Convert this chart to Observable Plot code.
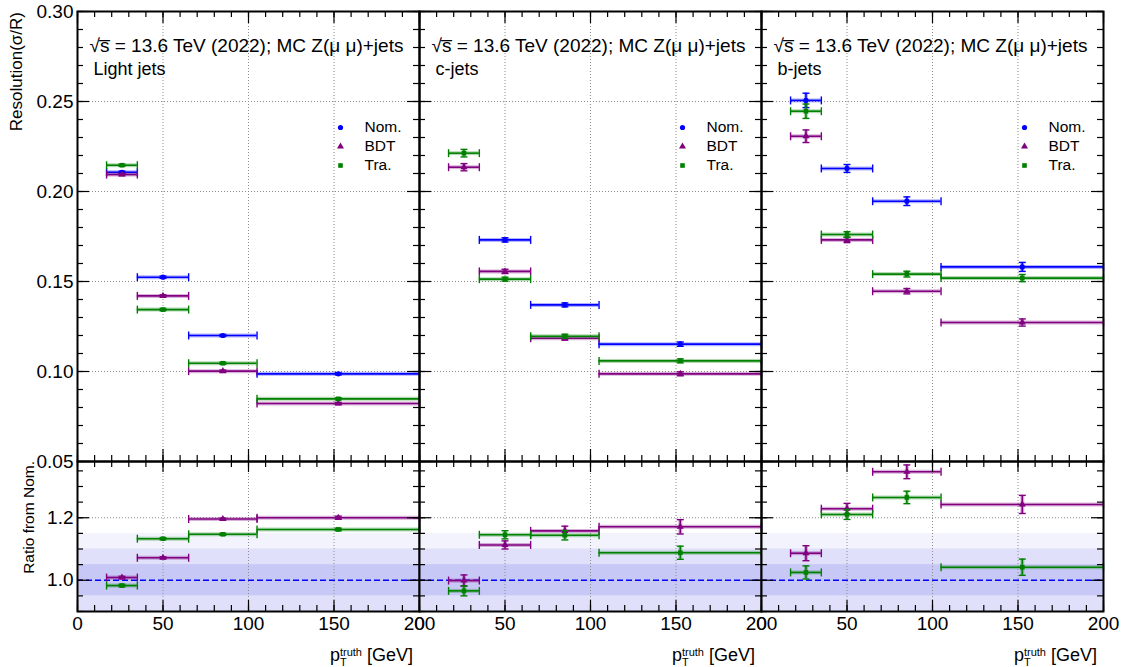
<!DOCTYPE html>
<html><head><meta charset="utf-8">
<script src="https://cdn.jsdelivr.net/npm/d3@7"></script>
<script src="https://cdn.jsdelivr.net/npm/@observablehq/plot@0.6"></script>
<style>
body{margin:0;background:#fff;font-family:"Liberation Sans",Arial,sans-serif;}
#chart{position:relative;width:1123px;height:667px;background:#fff;overflow:hidden;}
#chart svg{position:absolute;}
</style></head><body><div id="chart"></div>
<script>
// ---------- data ----------
const panels = ["Light jets", "c-jets", "b-jets"];
const headline = "\u221As\u0305 = 13.6 TeV (2022); MC Z(\u03BC \u03BC)+jets";
const seriesNames = ["Nom.", "BDT", "Tra."];
const seriesColors = ["#0000ff", "#800080", "#008000"];
const seriesSymbols = ["circle", "triangle", "square"];

const binLo = [17, 35, 65, 105];
const binHi = [35, 65, 105, 200];
const binCenter = [26, 50, 85, 152.5];

// resolution sigma/R
const nomLight = [0.2107, 0.1524, 0.1200, 0.0987];
const bdtLight = [0.2094, 0.1420, 0.1002, 0.0822];
const traLight = [0.2146, 0.1344, 0.1046, 0.0848];
const nomC = [null, 0.1731, 0.1370, 0.1152];
const bdtC = [0.2135, 0.1556, 0.1185, 0.0987];
const traC = [0.2213, 0.1513, 0.1196, 0.1059];
const nomB = [0.2506, 0.2128, 0.1946, 0.1581];
const bdtB = [0.2307, 0.1731, 0.1446, 0.1272];
const traB = [0.2446, 0.1761, 0.1541, 0.1519];

const nomLightErr = [0.0006, 0.0006, 0.0006, 0.0006];
const bdtLightErr = [0.0006, 0.0006, 0.0006, 0.0006];
const traLightErr = [0.0006, 0.0006, 0.0006, 0.0006];
const nomCErr = [0, 0.0012, 0.0011, 0.0012];
const bdtCErr = [0.0020, 0.0012, 0.0011, 0.0011];
const traCErr = [0.0021, 0.0011, 0.0011, 0.0011];
const nomBErr = [0.0040, 0.0022, 0.0024, 0.0025];
const bdtBErr = [0.0035, 0.0015, 0.0015, 0.0020];
const traBErr = [0.0040, 0.0016, 0.0016, 0.0020];

// ratio to Nom.
const bdtRatioLight = [1.0087, 1.072, 1.196, 1.200];
const traRatioLight = [0.983, 1.133, 1.147, 1.1625];
const bdtRatioC = [0.999, 1.113, 1.158, 1.171];
const traRatioC = [0.966, 1.1455, 1.144, 1.088];
const bdtRatioB = [1.0865, 1.229, 1.347, 1.2426];
const traRatioB = [1.025, 1.2106, 1.265, 1.0417];

const bdtRatioLightErr = [0.004, 0.003, 0.003, 0.005];
const traRatioLightErr = [0.004, 0.003, 0.003, 0.004];
const bdtRatioCErr = [0.018, 0.013, 0.015, 0.023];
const traRatioCErr = [0.016, 0.013, 0.015, 0.021];
const bdtRatioBErr = [0.024, 0.017, 0.022, 0.029];
const traRatioBErr = [0.021, 0.016, 0.020, 0.026];

// axes
const xDomain = [0, 200];
const xMajor = [0, 50, 100, 150, 200];
const xMinor = [0,10,20,30,40,50,60,70,80,90,100,110,120,130,140,150,160,170,180,190,200];
const xGrid = [50, 100, 150];
const yTopDomain = [0.05, 0.30];
const yTopMajor = [0.05, 0.10, 0.15, 0.20, 0.25, 0.30];
const yTopMinor = [0.05,0.06,0.07,0.08,0.09,0.10,0.11,0.12,0.13,0.14,0.15,0.16,0.17,0.18,0.19,0.20,0.21,0.22,0.23,0.24,0.25,0.26,0.27,0.28,0.29,0.30];
const yTopGrid = [0.10, 0.15, 0.20, 0.25];
const yRatioDomain = [0.9, 1.38];
const yRatioMajor = [1.0, 1.2];
const yRatioMinor = [0.9, 0.95, 1.0, 1.05, 1.1, 1.15, 1.2, 1.25, 1.3, 1.35];
const bandHalfWidths = [0.15, 0.10, 0.05];
const bandColors = ["#f3f3fd", "#e0e0fb", "#c8c8f7"];

// ---------- tables ----------
const topValues = [[nomLight, bdtLight, traLight], [nomC, bdtC, traC], [nomB, bdtB, traB]];
const topErrors = [[nomLightErr, bdtLightErr, traLightErr], [nomCErr, bdtCErr, traCErr], [nomBErr, bdtBErr, traBErr]];
const ratioValues = [[null, bdtRatioLight, traRatioLight], [null, bdtRatioC, traRatioC], [null, bdtRatioB, traRatioB]];
const ratioErrors = [[null, bdtRatioLightErr, traRatioLightErr], [null, bdtRatioCErr, traRatioCErr], [null, bdtRatioBErr, traRatioBErr]];

function rowsFor(vals, errs, p, s) {
  if (!vals[p][s]) return [];
  return vals[p][s].map((v, k) => ({v, e: errs[p][s][k], lo: binLo[k], hi: binHi[k], c: binCenter[k]}))
    .filter(d => d.v != null);
}

const vbar = {draw(ctx, size) { const r = Math.sqrt(size / Math.PI); ctx.moveTo(0, -r); ctx.lineTo(0, r); }};
const hbar = {draw(ctx, size) { const r = Math.sqrt(size / Math.PI); ctx.moveTo(-r, 0); ctx.lineTo(r, 0); }};

function seriesMarks(rows, s) {
  const col = seriesColors[s];
  const halo = {stroke: col, strokeOpacity: 0.3, strokeWidth: 4};
  const line = {stroke: col, strokeWidth: 1.6};
  const yLo = d => d.v - d.e, yHi = d => d.v + d.e;
  return [
    Plot.ruleY(rows, {y: "v", x1: "lo", x2: "hi", ...halo}),
    Plot.ruleX(rows, {x: "c", y1: yLo, y2: yHi, ...halo}),
    Plot.ruleY(rows, {y: "v", x1: "lo", x2: "hi", ...line}),
    Plot.ruleX(rows, {x: "c", y1: yLo, y2: yHi, ...line}),
    Plot.dot(rows, {x: "lo", y: "v", symbol: vbar, r: 4, fill: "none", stroke: col, strokeWidth: 1.4}),
    Plot.dot(rows, {x: "hi", y: "v", symbol: vbar, r: 4, fill: "none", stroke: col, strokeWidth: 1.4}),
    Plot.dot(rows, {x: "c", y: yLo, symbol: hbar, r: 3.5, fill: "none", stroke: col, strokeWidth: 1.4}),
    Plot.dot(rows, {x: "c", y: yHi, symbol: hbar, r: 3.5, fill: "none", stroke: col, strokeWidth: 1.4}),
    Plot.dot(rows, {x: "c", y: "v", symbol: seriesSymbols[s], r: 2.6, fill: col, stroke: "none"})
  ];
}

const W = 439, ML = 77, MR = 20, PW = 342;

// inward ticks on all four sides (ROOT style)
function tickMarks(yMaj, yMin, H, majLen, minLen) {
  const o = {stroke: "black", strokeWidth: 1.2};
  return [
    Plot.tickX(xMinor, {x: d => d, insetTop: H - minLen, ...o}),
    Plot.tickX(xMajor, {x: d => d, insetTop: H - majLen, ...o}),
    Plot.tickX(xMinor, {x: d => d, insetBottom: H - minLen, ...o}),
    Plot.tickX(xMajor, {x: d => d, insetBottom: H - majLen, ...o}),
    Plot.tickY(yMin, {y: d => d, insetRight: PW - 6, ...o}),
    Plot.tickY(yMaj, {y: d => d, insetRight: PW - 12, ...o}),
    Plot.tickY(yMin, {y: d => d, insetLeft: PW - 6, ...o}),
    Plot.tickY(yMaj, {y: d => d, insetLeft: PW - 12, ...o})
  ];
}

const svgStyle = {background: "transparent", overflow: "visible", fontFamily: "'Liberation Sans', Arial, sans-serif"};
const gridStyle = {stroke: "#8c8c8c", strokeWidth: 1, strokeDasharray: "1,2"};
const chart = document.getElementById("chart");

panels.forEach((pname, p) => {
  // ---- top panel ----
  const topMarks = [
    Plot.ruleX(xGrid, {x: d => d, ...gridStyle}),
    Plot.ruleY(yTopGrid, {y: d => d, ...gridStyle})
  ];
  [0, 1, 2].forEach(s => topMarks.push(...seriesMarks(rowsFor(topValues, topErrors, p, s), s)));
  topMarks.push(
    ...tickMarks(yTopMajor, yTopMinor, 450, 12, 6),
    Plot.frame({stroke: "black", strokeWidth: 2}),
    Plot.text([headline], {text: d => d, frameAnchor: "top-left", dx: 12, dy: 40, textAnchor: "start", lineAnchor: "bottom", fontSize: 19, fill: "black"}),
    Plot.text([pname], {text: d => d, frameAnchor: "top-left", dx: 16, dy: 63, textAnchor: "start", lineAnchor: "bottom", fontSize: 18, fill: "black"})
  );
  seriesNames.forEach((nm, s) => {
    topMarks.push(
      Plot.dot([nm], {frameAnchor: "top-left", dx: 263, dy: 116 + s * 19, symbol: seriesSymbols[s], r: 2.6, fill: seriesColors[s], stroke: "none"}),
      Plot.text([nm], {text: d => d, frameAnchor: "top-left", dx: 287, dy: 116 + s * 19, textAnchor: "start", lineAnchor: "middle", fontSize: 15.5, fill: "black"})
    );
  });
  if (p === 0) topMarks.push(Plot.axisY({anchor: "left", ticks: yTopMajor, tickSize: 0, tickPadding: 4, tickFormat: d => d.toFixed(2), fontSize: 19, label: null, fill: "black"}));
  const top = Plot.plot({
    width: W, height: 461, marginTop: 11, marginBottom: 0, marginLeft: ML, marginRight: MR,
    x: {domain: xDomain, axis: null}, y: {domain: yTopDomain, axis: null}, style: svgStyle, marks: topMarks
  });
  top.style.left = (p * PW) + "px"; top.style.top = "0px";
  chart.appendChild(top);

  // ---- ratio panel ----
  const bands = bandHalfWidths.map((h, k) => ({y1: 1 - h, y2: 1 + h, x1: xDomain[0], x2: xDomain[1], fill: bandColors[k]}));
  const botMarks = [];
  bands.forEach(b => botMarks.push(Plot.rect([b], {x1: "x1", x2: "x2", y1: "y1", y2: "y2", fill: b.fill, clip: true})));
  botMarks.push(
    Plot.ruleX(xGrid, {x: d => d, ...gridStyle}),
    Plot.ruleY([1.2], {y: d => d, ...gridStyle}),
    Plot.ruleY([1.0], {y: d => d, stroke: "#0000ff", strokeWidth: 1.6, strokeDasharray: "6,3"})
  );
  [1, 2].forEach(s => botMarks.push(...seriesMarks(rowsFor(ratioValues, ratioErrors, p, s), s)));
  botMarks.push(
    ...tickMarks(yRatioMajor, yRatioMinor, 150, 11, 6),
    Plot.frame({stroke: "black", strokeWidth: 2}),
    Plot.axisX({anchor: "bottom", ticks: xMajor, tickSize: 0, tickPadding: 5, tickFormat: d => String(d), fontSize: 19, label: null, fill: "black"})
  );
  if (p === 0) botMarks.push(Plot.axisY({anchor: "left", ticks: yRatioMajor, tickSize: 0, tickPadding: 4, tickFormat: d => d.toFixed(1), fontSize: 19, label: null, fill: "black"}));
  const bot = Plot.plot({
    width: W, height: 206, marginTop: 0, marginBottom: 56, marginLeft: ML, marginRight: MR,
    x: {domain: xDomain}, y: {domain: yRatioDomain, axis: null}, style: svgStyle, marks: botMarks
  });
  bot.style.left = (p * PW) + "px"; bot.style.top = "461px";
  chart.appendChild(bot);

  // axis titles
  const xt = d3.select(bot).append("text")
    .attr("x", ML + PW - 6).attr("y", 200).attr("text-anchor", "end")
    .attr("font-size", 18).attr("fill", "black");
  xt.append("tspan").text("p");
  xt.append("tspan").attr("font-size", 11).attr("dy", 5).text("T");
  xt.append("tspan").attr("font-size", 11).attr("dx", -6.7).attr("dy", -10).text("truth");
  xt.append("tspan").attr("dy", 5).text(" [GeV]");

  if (p === 0) {
    d3.select(top).append("text")
      .attr("transform", "translate(22,12) rotate(-90)").attr("text-anchor", "end")
      .attr("font-size", 17).attr("fill", "black").text("Resolution(\u03C3/R)");
    d3.select(bot).append("text")
      .attr("transform", "translate(34,0) rotate(-90)").attr("text-anchor", "end")
      .attr("font-size", 15.5).attr("fill", "black").text("Ratio from Nom.");
  }
});
</script></body></html>
